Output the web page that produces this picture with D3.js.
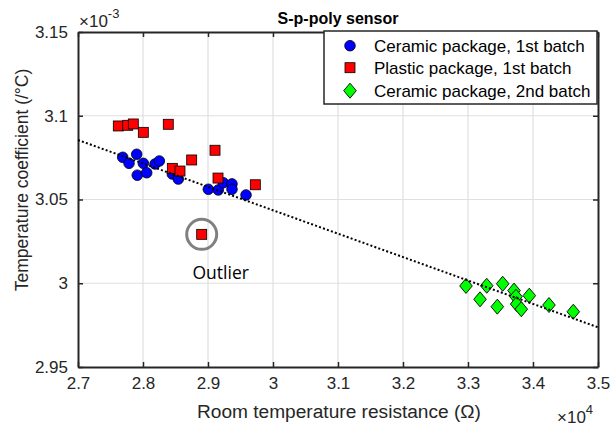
<!DOCTYPE html>
<html>
<head>
<meta charset="utf-8">
<script src="https://cdn.jsdelivr.net/npm/d3@7/dist/d3.min.js"></script>
<style>
  html, body { margin: 0; padding: 0; background: #fff; }
  svg { display: block; }
  text { font-family: "Liberation Sans", Arial, Helvetica, sans-serif; fill: #262626; }
</style>
</head>
<body>
<div id="chart"></div>
<script>
// Resistance in units of 1e4 ohm, temperature coefficient in units of 1e-3 /°C
const ceramic1X = [2.7688, 2.7785, 2.7903, 2.8005, 2.7912, 2.8057, 2.8185, 2.8251,
                   2.8451, 2.8543, 2.9005, 2.9158, 2.9235, 2.9369, 2.9369, 2.9585];
const ceramic1Y = [3.0752, 3.0716, 3.0770, 3.0716, 3.0645, 3.0660, 3.0712, 3.0730,
                   3.0652, 3.0622, 3.0561, 3.0557, 3.0600, 3.0593, 3.0561, 3.0527];

const plastic1X = [2.7620, 2.7765, 2.7851, 2.8005, 2.8389, 2.9108, 2.8749, 2.8451,
                   2.8569, 2.9154, 2.9728, 2.8903];
const plastic1Y = [3.0939, 3.0943, 3.0951, 3.0901, 3.0949, 3.0794, 3.0736, 3.0686,
                   3.0670, 3.0628, 3.0588, 3.0292];

const ceramic2X = [3.2969, 3.3185, 3.3288, 3.3451, 3.3534, 3.3708, 3.3738, 3.3749,
                   3.3820, 3.3943, 3.4246, 3.4620];
const ceramic2Y = [2.9984, 2.9904, 2.9985, 2.9860, 2.9997, 2.9956, 2.9920, 2.9876,
                   2.9845, 2.9926, 2.9870, 2.9830];

// Linear trend across all samples
const trendX = [2.7, 3.5];
const trendY = [3.0855, 2.9737];

// Index of the flagged plastic-package sample
const outlierIndex = 11;

const xTicks = [2.7, 2.8, 2.9, 3.0, 3.1, 3.2, 3.3, 3.4, 3.5];
const yTicks = [2.95, 3.0, 3.05, 3.1, 3.15];

const seriesNames = ["Ceramic package, 1st batch", "Plastic package, 1st batch", "Ceramic package, 2nd batch"];

const W = 613, H = 428;
const m = { left: 78, right: 15, top: 32, bottom: 61 };
const pw = W - m.left - m.right, ph = H - m.top - m.bottom;

const svg = d3.select("#chart").append("svg").attr("width", W).attr("height", H);

const x = d3.scaleLinear().domain([2.7, 3.5]).range([m.left, m.left + pw]);
const y = d3.scaleLinear().domain([2.95, 3.15]).range([m.top + ph, m.top]);

const fmt = d => d3.format("~g")(+d.toFixed(2));

// grid
const grid = svg.append("g");
grid.selectAll(".gx").data(xTicks.slice(1, -1)).join("line")
  .attr("x1", d => x(d)).attr("x2", d => x(d))
  .attr("y1", m.top).attr("y2", m.top + ph)
  .attr("stroke", "#dfdfdf").attr("stroke-width", 1.2);
grid.selectAll(".gy").data(yTicks.slice(1, -1)).join("line")
  .attr("y1", d => y(d)).attr("y2", d => y(d))
  .attr("x1", m.left).attr("x2", m.left + pw)
  .attr("stroke", "#dfdfdf").attr("stroke-width", 1.2);

// axes (ticks pointing inward, box on all sides)
const axisColor = "#262626";
function styleAxis(g) {
  g.select(".domain").attr("stroke", axisColor).attr("stroke-width", 2);
  g.selectAll(".tick line").attr("stroke", axisColor).attr("stroke-width", 1.5);
  g.selectAll(".tick text").attr("fill", axisColor)
    .style("font-family", '"Liberation Sans", Arial, sans-serif').style("font-size", "17px");
}
svg.append("g").attr("transform", `translate(0,${m.top + ph})`)
  .call(d3.axisBottom(x).tickValues(xTicks).tickFormat(fmt).tickSizeInner(-5).tickSizeOuter(0).tickPadding(10))
  .call(styleAxis);
svg.append("g").attr("transform", `translate(0,${m.top})`)
  .call(d3.axisTop(x).tickValues(xTicks).tickFormat("").tickSizeInner(-5).tickSizeOuter(0))
  .call(styleAxis);
svg.append("g").attr("transform", `translate(${m.left},0)`)
  .call(d3.axisLeft(y).tickValues(yTicks).tickFormat(fmt).tickSizeInner(-5).tickSizeOuter(0).tickPadding(10))
  .call(styleAxis);
svg.append("g").attr("transform", `translate(${m.left + pw},0)`)
  .call(d3.axisRight(y).tickValues(yTicks).tickFormat("").tickSizeInner(-5).tickSizeOuter(0))
  .call(styleAxis);

// markers
const symCircle = d3.symbol().type(d3.symbolCircle).size(Math.PI * 5.3 * 5.3);
const diamondPath = "M0,-7.5L6.3,0L0,7.5L-6.3,0Z";

const plot = svg.append("g");
plot.selectAll(".c1").data(ceramic1X).join("path")
  .attr("d", symCircle)
  .attr("transform", (d, i) => `translate(${x(d)},${y(ceramic1Y[i])})`)
  .attr("fill", "#0000ff").attr("stroke", "#000").attr("stroke-width", 0.8);

plot.selectAll(".p1").data(plastic1X).join("rect")
  .attr("x", d => x(d) - 5).attr("y", (d, i) => y(plastic1Y[i]) - 5)
  .attr("width", 10).attr("height", 10)
  .attr("fill", "#ff0000").attr("stroke", "#000").attr("stroke-width", 0.8);

plot.selectAll(".c2").data(ceramic2X).join("path")
  .attr("d", diamondPath)
  .attr("transform", (d, i) => `translate(${x(d)},${y(ceramic2Y[i])})`)
  .attr("fill", "#00ff00").attr("stroke", "#000").attr("stroke-width", 0.9);

// trend line
svg.append("line")
  .attr("x1", x(trendX[0])).attr("y1", y(trendY[0]))
  .attr("x2", x(trendX[1])).attr("y2", y(trendY[1]))
  .attr("stroke", "#000").attr("stroke-width", 2).attr("stroke-dasharray", "2,2.2");

// outlier marking
const ox = x(plastic1X[outlierIndex]), oy = y(plastic1Y[outlierIndex]);
svg.append("circle").attr("cx", ox).attr("cy", oy).attr("r", 15)
  .attr("fill", "none").attr("stroke", "#808080").attr("stroke-width", 3);
svg.append("text").attr("x", ox + 19).attr("y", oy + 45)
  .attr("text-anchor", "middle")
  .style("font-family", '"Open Sans", sans-serif').style("font-size", "17.5px")
  .style("fill", "#000")
  .text("Outlier");

// exponent labels
const ex = svg.append("text").attr("x", m.left + 1).attr("y", m.top - 5).style("font-size", "17px");
ex.append("tspan").text("\u00d710");
ex.append("tspan").attr("dy", -9).style("font-size", "13px").text("-3");

const ex4 = svg.append("text").attr("x", 557).attr("y", 423).style("font-size", "17px");
ex4.append("tspan").text("\u00d710");
ex4.append("tspan").attr("dy", -9).style("font-size", "13px").text("4");

// titles
svg.append("text").attr("x", m.left + pw / 2).attr("y", 24)
  .attr("text-anchor", "middle").style("font-size", "16px").style("font-weight", "bold")
  .style("fill", "#000").text("S-p-poly sensor");

svg.append("text").attr("x", 339).attr("y", 418)
  .attr("text-anchor", "middle").style("font-size", "18px")
  .attr("textLength", 284).attr("lengthAdjust", "spacingAndGlyphs")
  .text("Room temperature resistance (\u03a9)");

svg.append("text").attr("transform", "translate(28,180) rotate(-90)")
  .attr("text-anchor", "middle").style("font-size", "17.5px")
  .text("Temperature coefficient (/\u00b0C)");

// legend
const lg = svg.append("g");
lg.append("rect").attr("x", 324).attr("y", 31).attr("width", 273).attr("height", 73)
  .attr("fill", "#fff").attr("stroke", "#262626").attr("stroke-width", 1.5);
const rowY = [45.7, 67.7, 90.7];
lg.append("path").attr("d", symCircle).attr("transform", `translate(350,${rowY[0]})`)
  .attr("fill", "#0000ff").attr("stroke", "#000").attr("stroke-width", 0.8);
lg.append("rect").attr("x", 345).attr("y", rowY[1] - 5).attr("width", 10).attr("height", 10)
  .attr("fill", "#ff0000").attr("stroke", "#000").attr("stroke-width", 0.8);
lg.append("path").attr("d", diamondPath).attr("transform", `translate(350,${rowY[2]})`)
  .attr("fill", "#00ff00").attr("stroke", "#000").attr("stroke-width", 0.9);
lg.selectAll(".lt").data(seriesNames).join("text")
  .attr("x", 374).attr("y", (d, i) => rowY[i] + 6)
  .style("font-size", "17px").style("fill", "#000")
  .text(d => d);
</script>
</body>
</html>
